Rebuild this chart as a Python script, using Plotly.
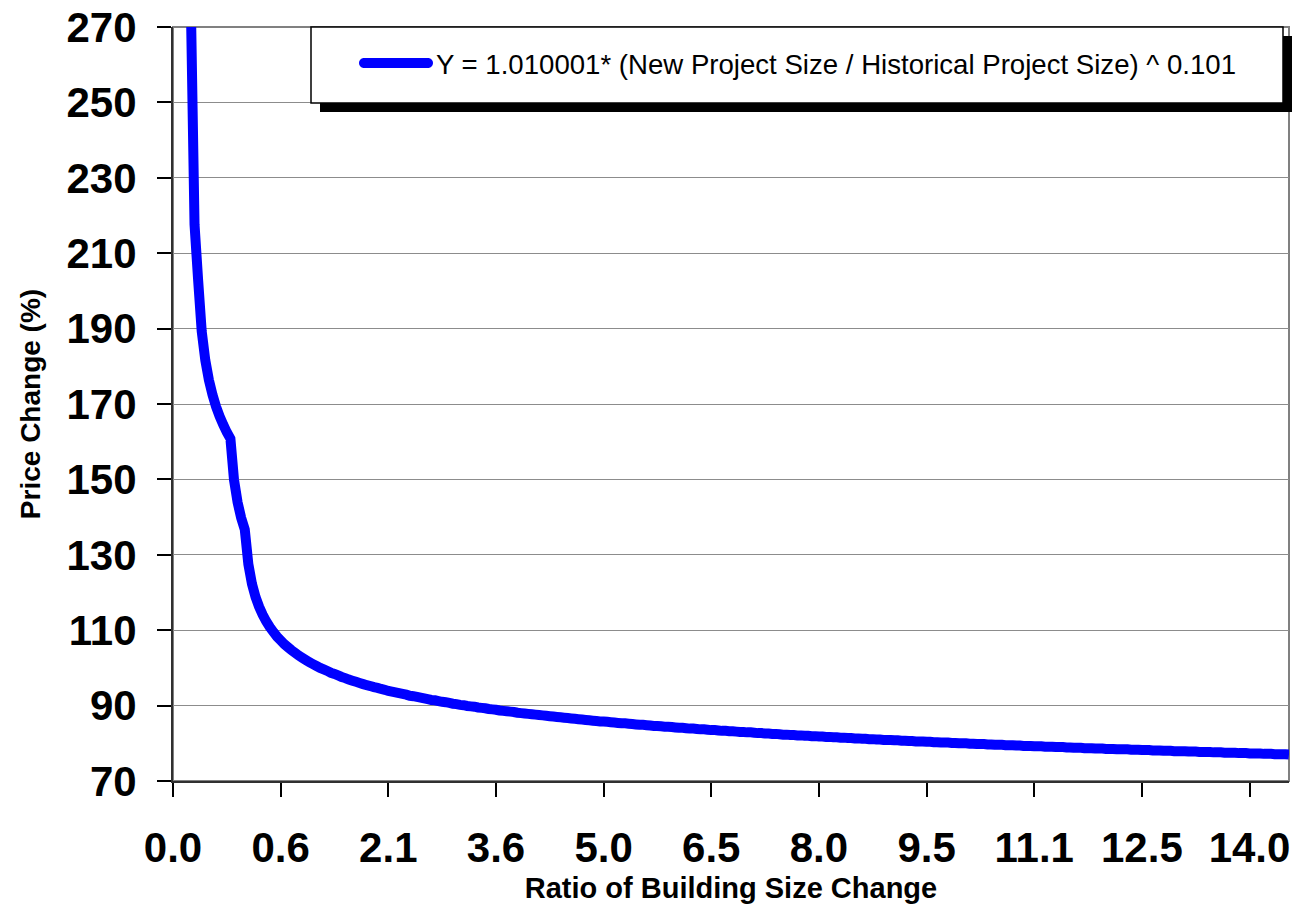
import plotly.graph_objects as go

# Building size ratio (new / historical) for each table row, in row order
size_ratio = [
    0.0, 0.00001, 0.00002, 0.00003, 0.00004, 0.00005, 0.0005, 0.001, 0.002, 0.003,
    0.004, 0.005, 0.006, 0.007, 0.008, 0.009, 0.01, 0.02, 0.03, 0.04,
    0.05, 0.1, 0.15, 0.2, 0.25, 0.3, 0.35, 0.4, 0.45, 0.5,
    0.55, 0.6, 0.65, 0.7, 0.75, 0.8, 0.85, 0.9, 0.95, 1.0,
    1.05, 1.1, 1.15, 1.2, 1.25, 1.3, 1.35, 1.4, 1.45, 1.5,
    1.55, 1.6, 1.65, 1.7, 1.75, 1.8, 1.85, 1.9, 1.95, 2.0,
    2.05, 2.1, 2.15, 2.2, 2.25, 2.3, 2.35, 2.4, 2.45, 2.5,
    2.55, 2.6, 2.65, 2.7, 2.75, 2.8, 2.85, 2.9, 2.95, 3.0,
    3.05, 3.1, 3.15, 3.2, 3.25, 3.3, 3.35, 3.4, 3.45, 3.5,
    3.55, 3.6, 3.65, 3.7, 3.75, 3.8, 3.85, 3.9, 3.95, 4.0,
    4.05, 4.1, 4.15, 4.2, 4.25, 4.3, 4.35, 4.4, 4.45, 4.5,
    4.55, 4.6, 4.65, 4.7, 4.75, 4.8, 4.85, 4.9, 4.95, 5.0,
    5.05, 5.1, 5.15, 5.2, 5.25, 5.3, 5.35, 5.4, 5.45, 5.5,
    5.55, 5.6, 5.65, 5.7, 5.75, 5.8, 5.85, 5.9, 5.95, 6.0,
    6.05, 6.1, 6.15, 6.2, 6.25, 6.3, 6.35, 6.4, 6.45, 6.5,
    6.55, 6.6, 6.65, 6.7, 6.75, 6.8, 6.85, 6.9, 6.95, 7.0,
    7.05, 7.1, 7.15, 7.2, 7.25, 7.3, 7.35, 7.4, 7.45, 7.5,
    7.55, 7.6, 7.65, 7.7, 7.75, 7.8, 7.85, 7.9, 7.95, 8.0,
    8.05, 8.1, 8.15, 8.2, 8.25, 8.3, 8.35, 8.4, 8.45, 8.5,
    8.55, 8.6, 8.65, 8.7, 8.75, 8.8, 8.85, 8.9, 8.95, 9.0,
    9.05, 9.1, 9.15, 9.2, 9.25, 9.3, 9.35, 9.4, 9.45, 9.5,
    9.55, 9.6, 9.65, 9.7, 9.75, 9.8, 9.85, 9.9, 9.95, 10.0,
    10.05, 10.1, 10.15, 10.2, 10.25, 10.3, 10.35, 10.4, 10.45, 10.5,
    10.55, 10.6, 10.65, 10.7, 10.75, 10.8, 10.85, 10.9, 10.95, 11.0,
    11.05, 11.1, 11.15, 11.2, 11.25, 11.3, 11.35, 11.4, 11.45, 11.5,
    11.55, 11.6, 11.65, 11.7, 11.75, 11.8, 11.85, 11.9, 11.95, 12.0,
    12.05, 12.1, 12.15, 12.2, 12.25, 12.3, 12.35, 12.4, 12.45, 12.5,
    12.55, 12.6, 12.65, 12.7, 12.75, 12.8, 12.85, 12.9, 12.95, 13.0,
    13.05, 13.1, 13.15, 13.2, 13.25, 13.3, 13.35, 13.4, 13.45, 13.5,
    13.55, 13.6, 13.65, 13.7, 13.75, 13.8, 13.85, 13.9, 13.95, 14.0,
    14.05, 14.1, 14.15, 14.2, 14.25, 14.3, 14.35, 14.4, 14.45, 14.5,
    14.55, 14.6,
]

# Price change (%) for each row; the first row has no value
price_change = [
    None, 323.4, 301.0, 289.4, 281.1, 274.6, 217.6, 202.9, 189.3, 181.6,
    176.4, 172.5, 169.3, 166.7, 164.5, 162.5, 160.8, 149.9, 143.9, 139.8,
    136.7, 127.5, 122.3, 118.8, 116.2, 114.1, 112.3, 110.8, 109.5, 108.3,
    107.3, 106.3, 105.5, 104.7, 104.0, 103.3, 102.7, 102.1, 101.5, 101.0,
    100.5, 100.0, 99.6, 99.2, 98.7, 98.4, 98.0, 97.6, 97.3, 96.9,
    96.6, 96.3, 96.0, 95.7, 95.4, 95.2, 94.9, 94.7, 94.4, 94.2,
    93.9, 93.7, 93.5, 93.3, 93.1, 92.9, 92.6, 92.5, 92.3, 92.1,
    91.9, 91.7, 91.5, 91.4, 91.2, 91.0, 90.9, 90.7, 90.5, 90.4,
    90.2, 90.1, 89.9, 89.8, 89.7, 89.5, 89.4, 89.3, 89.1, 89.0,
    88.9, 88.7, 88.6, 88.5, 88.4, 88.3, 88.1, 88.0, 87.9, 87.8,
    87.7, 87.6, 87.5, 87.4, 87.3, 87.2, 87.1, 87.0, 86.9, 86.8,
    86.7, 86.6, 86.5, 86.4, 86.3, 86.2, 86.1, 86.0, 85.9, 85.8,
    85.8, 85.7, 85.6, 85.5, 85.4, 85.3, 85.3, 85.2, 85.1, 85.0,
    84.9, 84.9, 84.8, 84.7, 84.6, 84.6, 84.5, 84.4, 84.4, 84.3,
    84.2, 84.1, 84.1, 84.0, 83.9, 83.9, 83.8, 83.7, 83.7, 83.6,
    83.5, 83.5, 83.4, 83.3, 83.3, 83.2, 83.2, 83.1, 83.0, 83.0,
    82.9, 82.9, 82.8, 82.7, 82.7, 82.6, 82.6, 82.5, 82.5, 82.4,
    82.3, 82.3, 82.2, 82.2, 82.1, 82.1, 82.0, 82.0, 81.9, 81.9,
    81.8, 81.8, 81.7, 81.7, 81.6, 81.6, 81.5, 81.5, 81.4, 81.4,
    81.3, 81.3, 81.2, 81.2, 81.1, 81.1, 81.0, 81.0, 80.9, 80.9,
    80.9, 80.8, 80.8, 80.7, 80.7, 80.6, 80.6, 80.5, 80.5, 80.5,
    80.4, 80.4, 80.3, 80.3, 80.2, 80.2, 80.2, 80.1, 80.1, 80.0,
    80.0, 80.0, 79.9, 79.9, 79.8, 79.8, 79.8, 79.7, 79.7, 79.6,
    79.6, 79.6, 79.5, 79.5, 79.5, 79.4, 79.4, 79.3, 79.3, 79.3,
    79.2, 79.2, 79.2, 79.1, 79.1, 79.1, 79.0, 79.0, 79.0, 78.9,
    78.9, 78.8, 78.8, 78.8, 78.7, 78.7, 78.7, 78.6, 78.6, 78.6,
    78.5, 78.5, 78.5, 78.4, 78.4, 78.4, 78.4, 78.3, 78.3, 78.3,
    78.2, 78.2, 78.2, 78.1, 78.1, 78.1, 78.0, 78.0, 78.0, 77.9,
    77.9, 77.9, 77.9, 77.8, 77.8, 77.8, 77.7, 77.7, 77.7, 77.7,
    77.6, 77.6, 77.6, 77.5, 77.5, 77.5, 77.5, 77.4, 77.4, 77.4,
    77.3, 77.3, 77.3, 77.3, 77.2, 77.2, 77.2, 77.1, 77.1, 77.1,
    77.1, 77.0,
]

# Category labels shown on the x axis (every 30th row)
x_tick_labels = ["0.0", "0.6", "2.1", "3.6", "5.0", "6.5", "8.0", "9.5", "11.1", "12.5", "14.0"]
y_tick_values = [70, 90, 110, 130, 150, 170, 190, 210, 230, 250, 270]

legend_text = "Y = 1.010001* (New Project Size / Historical Project Size) ^ 0.101"

FONT = "Liberation Sans, Arial, Helvetica, sans-serif"
W, H = 1301, 912
M_L, M_R, M_T, M_B = 173, 12, 27, 131
PLOT_W = W - M_L - M_R
PLOT_H = H - M_T - M_B

# Each row is its own category on the x axis
categories = [format(r, "g") for r in size_ratio]
tick_categories = categories[::30]


def px_x(px):
    return (px - M_L) / PLOT_W


def px_y(py):
    return (H - M_B - py) / PLOT_H


fig = go.Figure()
fig.add_trace(go.Scatter(
    x=categories,
    y=price_change,
    mode="lines",
    line=dict(color="#0000FF", width=10, simplify=False),
    customdata=size_ratio,
    hovertemplate="Ratio %{customdata}<br>Price %{y:.1f}%<extra></extra>",
    showlegend=False,
    connectgaps=False,
))

shapes = []
# plot-area frame
shapes.append(dict(type="rect", xref="paper", yref="paper", x0=0, x1=1, y0=0, y1=1,
                   line=dict(color="#808080", width=2), layer="below"))

# legend box with drop shadow
lx0, lx1, ly0, ly1 = 311, 1283, 27, 103
sh = 9
shapes.append(dict(type="rect", xref="paper", yref="paper",
                   x0=px_x(lx0 + sh), x1=px_x(lx1 + sh), y0=px_y(ly1 + sh), y1=px_y(ly0 + sh),
                   fillcolor="black", line=dict(width=0), layer="above"))
shapes.append(dict(type="rect", xref="paper", yref="paper",
                   x0=px_x(lx0), x1=px_x(lx1), y0=px_y(ly1), y1=px_y(ly0),
                   fillcolor="white", line=dict(color="black", width=1.5), layer="above"))

# legend line sample with rounded ends
cx0, cx1, cy, r = 364, 428, 63, 5
k = 0.55 * r
pts = [
    ("M", [(cx0, cy - r)]),
    ("L", [(cx1, cy - r)]),
    ("C", [(cx1 + k, cy - r), (cx1 + r, cy - k), (cx1 + r, cy)]),
    ("C", [(cx1 + r, cy + k), (cx1 + k, cy + r), (cx1, cy + r)]),
    ("L", [(cx0, cy + r)]),
    ("C", [(cx0 - k, cy + r), (cx0 - r, cy + k), (cx0 - r, cy)]),
    ("C", [(cx0 - r, cy - k), (cx0 - k, cy - r), (cx0, cy - r)]),
]
path = ""
for cmd, ps in pts:
    path += cmd + " " + " ".join(f"{px_x(a):.5f},{px_y(b):.5f}" for a, b in ps) + " "
path += "Z"
shapes.append(dict(type="path", xref="paper", yref="paper", path=path,
                   fillcolor="#0000FF", line=dict(width=0), layer="above"))

fig.update_layout(
    width=W, height=H,
    margin=dict(l=M_L, r=M_R, t=M_T, b=M_B, pad=0),
    paper_bgcolor="white",
    plot_bgcolor="white",
    showlegend=False,
    shapes=shapes,
    annotations=[dict(
        xref="paper", yref="paper", x=px_x(434), y=px_y(64),
        xanchor="left", yanchor="middle", showarrow=False,
        text=legend_text, font=dict(family=FONT, size=27.6, color="black"),
    )],
    xaxis=dict(
        type="category",
        categoryorder="array",
        categoryarray=categories,
        range=[0, len(categories) - 1],
        tickmode="array",
        tickvals=tick_categories,
        ticktext=x_tick_labels,
        ticks="outside", ticklen=14, tickwidth=2, tickcolor="black",
        ticklabelstandoff=15,
        tickfont=dict(family=FONT, size=42, color="black", weight="bold"),
        showline=True, linecolor="#303030", linewidth=2,
        showgrid=False, zeroline=False, automargin=False,
        title=dict(text="Ratio of Building Size Change", standoff=7,
                   font=dict(family=FONT, size=29, color="black", weight="bold")),
    ),
    yaxis=dict(
        range=[70, 270],
        tickmode="array",
        tickvals=y_tick_values,
        ticks="outside", ticklen=14, tickwidth=2, tickcolor="black",
        ticklabelstandoff=12,
        tickfont=dict(family=FONT, size=42, color="black", weight="bold"),
        showline=True, linecolor="#303030", linewidth=2,
        showgrid=True, gridcolor="#8c8c8c", gridwidth=1,
        zeroline=False, automargin=False,
        title=dict(text="Price Change (%)", standoff=18,
                   font=dict(family=FONT, size=28, color="black", weight="bold")),
    ),
)

fig.write_html("out.html")
